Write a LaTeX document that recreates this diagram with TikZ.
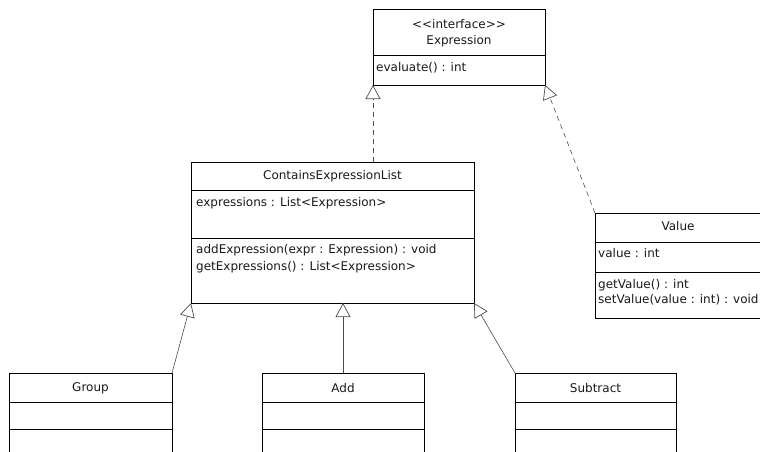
\documentclass[tikz,border=0pt]{standalone}
\usepackage{fontspec}
\setmainfont{DejaVu Sans}
\usetikzlibrary{arrows.meta}
\tikzset{
  cls/.style={draw=black, line width=0.8pt, fill=white, inner sep=0pt, outer sep=0pt, anchor=north west},
  txt/.style={font=\fontsize{12}{14}\selectfont, inner sep=0pt, text=black!90},
  lbl/.style={txt, anchor=west},
  ttl/.style={txt, anchor=center},
  divl/.style={draw=black, line width=0.8pt},
  gen/.style={draw=black!70, line width=0.6pt, -{Triangle[length=14pt, width=15pt, fill=white, line width=0.7pt]}},
  dep/.style={gen, dash pattern=on 5pt off 4pt}
}
\begin{document}
\begin{tikzpicture}[x=1pt, y=-1pt]
\useasboundingbox (0,0) rectangle (760,452);
\clip (0,0) rectangle (760,452);

% Expression
\node[cls, minimum width=172pt, minimum height=76pt] (expr) at (373,9) {};
\draw[divl] (expr.west |- 0,55) -- (expr.east |- 0,55);
\node[ttl] (exprs) at (459,24) {<{}<interface>{}>};
\node[ttl] (exprt) at (459,41) {Expression};
\node[lbl] (exprm) at (376,68) {evaluate() : int};

% ContainsExpressionList
\node[cls, minimum width=283pt, minimum height=141pt] (cel) at (191,162) {};
\draw[divl] (cel.west |- 0,190) -- (cel.east |- 0,190);
\draw[divl] (cel.west |- 0,238) -- (cel.east |- 0,238);
\node[ttl] (celt) at (332.5,176) {ContainsExpressionList};
\node[lbl] (cela) at (196,203) {expressions : List<Expression>};
\node[lbl] (celm1) at (196,250) {addExpression(expr : Expression) : void};
\node[lbl] (celm2) at (196,267) {getExpressions() : List<Expression>};

% Value
\node[cls, minimum width=167pt, minimum height=105pt] (val) at (595,213) {};
\draw[divl] (val.west |- 0,242) -- (val.east |- 0,242);
\draw[divl] (val.west |- 0,272) -- (val.east |- 0,272);
\node[ttl] (valt) at (678,226) {Value};
\node[lbl] (vala) at (598,253) {value : int};
\node[lbl] (valm1) at (598,285) {getValue() : int};
\node[lbl] (valm2) at (598,300) {setValue(value : int) : void};

% Group
\node[cls, minimum width=163pt, minimum height=100pt] (grp) at (9,373) {};
\draw[divl] (grp.west |- 0,402) -- (grp.east |- 0,402);
\draw[divl] (grp.west |- 0,429) -- (grp.east |- 0,429);
\node[ttl] (grpt) at (90.5,388) {Group};

% Add
\node[cls, minimum width=162pt, minimum height=100pt] (add) at (262,373) {};
\draw[divl] (add.west |- 0,402) -- (add.east |- 0,402);
\draw[divl] (add.west |- 0,429) -- (add.east |- 0,429);
\node[ttl] (addt) at (343,388) {Add};

% Subtract
\node[cls, minimum width=161pt, minimum height=100pt] (sub) at (515,373) {};
\draw[divl] (sub.west |- 0,402) -- (sub.east |- 0,402);
\draw[divl] (sub.west |- 0,429) -- (sub.east |- 0,429);
\node[ttl] (subt) at (595.5,388) {Subtract};

% Connectors
\draw[dep] (cel.north -| expr.south west) -- (expr.south west);
\draw[dep] (val.north west) -- (expr.south east);
\draw[gen] (grp.north east) -- (cel.south west);
\draw[gen] (add.north) -- (add.north |- cel.south);
\draw[gen] (sub.north west) -- (cel.south east);
\end{tikzpicture}
\end{document}
